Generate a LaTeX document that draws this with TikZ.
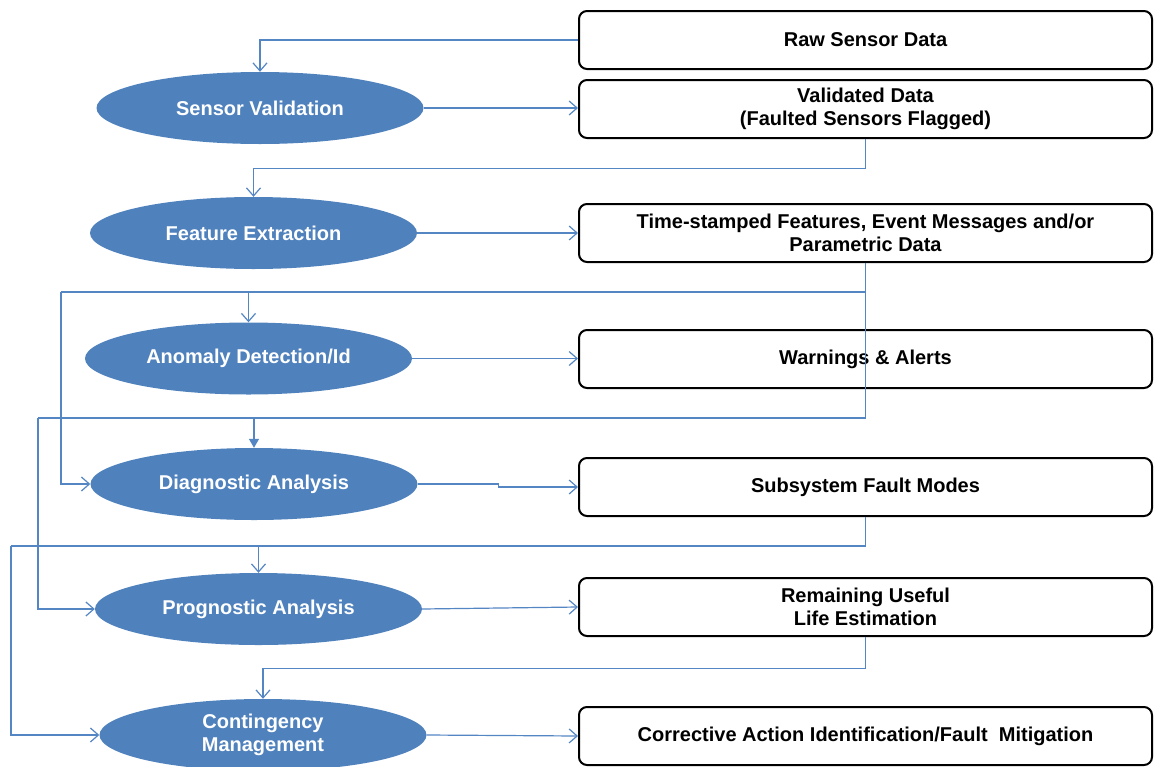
\documentclass[tikz,border=0pt]{standalone}
\usepackage{fontspec}
\setmainfont{Liberation Sans}
\usetikzlibrary{shapes.geometric,arrows.meta,calc}
\definecolor{ovalblue}{RGB}{79,129,189}
\definecolor{lineblue}{RGB}{84,134,196}
\begin{document}
\begin{tikzpicture}[x=1pt,y=-1pt,
  oval/.style={ellipse, fill=ovalblue, draw=none, minimum width=327pt, minimum height=72pt, inner sep=0pt, text=white, font=\fontsize{20}{23.5}\selectfont\bfseries, align=center},
  databox/.style={rectangle, rounded corners=8pt, draw=black, line width=2pt, minimum width=573pt, minimum height=58pt, inner sep=0pt, text=black, font=\fontsize{20}{23.5}\selectfont\bfseries, align=center},
  link/.style={draw=lineblue, line width=1.2pt},
  conn/.style={link, -{Straight Barb[length=8pt,width=14pt]}},
  solidconn/.style={link, -{Triangle[length=9pt,width=10pt]}}]
\useasboundingbox (0,0) rectangle (1154,766);
\clip (0,0) rectangle (1154,766);

% boxes
\node[databox] (raw) at (865.5,40) {Raw Sensor Data};
\node[databox] (vd) at (865.5,109) {Validated Data\\(Faulted Sensors Flagged)};
\node[databox] (ts) at (865.5,233) {Time-stamped Features, Event Messages and/or\\Parametric Data};
\node[databox] (wa) at (865.5,359) {Warnings \& Alerts};
\node[databox] (ss) at (865.5,487) {Subsystem Fault Modes};
\node[databox] (rl) at (865.5,607) {Remaining Useful\\Life Estimation};
\node[databox] (co) at (865.5,736) {Corrective Action Identification/Fault~ Mitigation};

% ovals
\node[oval] (sv) at (260,108) {Sensor Validation};
\node[oval] (fe) at (253.5,233) {Feature Extraction};
\node[oval] (ad) at (248.5,358.5) {Anomaly Detection/Id};
\node[oval] (dg) at (254,484) {Diagnostic Analysis};
\node[oval] (pg) at (258.5,609) {Prognostic Analysis};
\node[oval] (cm) at (263,735) {Contingency\\Management};

% junction coordinates
\coordinate (t1) at (61,292);
\coordinate (t2) at (38,418);
\coordinate (t3) at (11,546);

% horizontal flows
\draw[conn] (sv.east) -- (sv.east -| vd.west);
\draw[conn] (fe.east) -- (fe.east -| ts.west);
\draw[conn] (ad.east) -- (ad.east -| wa.west);
\draw[conn] (dg.east) -- ++(81,0) |- (ss.west);
\draw[conn] (pg.east) -- (rl.west);
\draw[conn] (cm.east) -- (co.west);

% feedback flows
\draw[conn] (raw.west) -| (sv.north);
\draw[conn] (vd.south) |- ($(fe.north)+(0,-28)$) -- (fe.north);

\draw[link] (ts.south) |- (t1);
\draw[conn] (t1) |- (dg.west);
\draw[conn] (ad.north |- t1) -- (ad.north);

\draw[link] (ts.south) |- (t2);
\draw[conn] (t2) |- (pg.west);
\draw[solidconn] (dg.north |- t2) -- (dg.north);

\draw[link] (ss.south) |- (t3);
\draw[conn] (t3) |- (cm.west);
\draw[conn] (pg.north |- t3) -- (pg.north);

\draw[conn] (rl.south) |- ($(cm.north)+(0,-30)$) -- (cm.north);
\end{tikzpicture}
\end{document}
